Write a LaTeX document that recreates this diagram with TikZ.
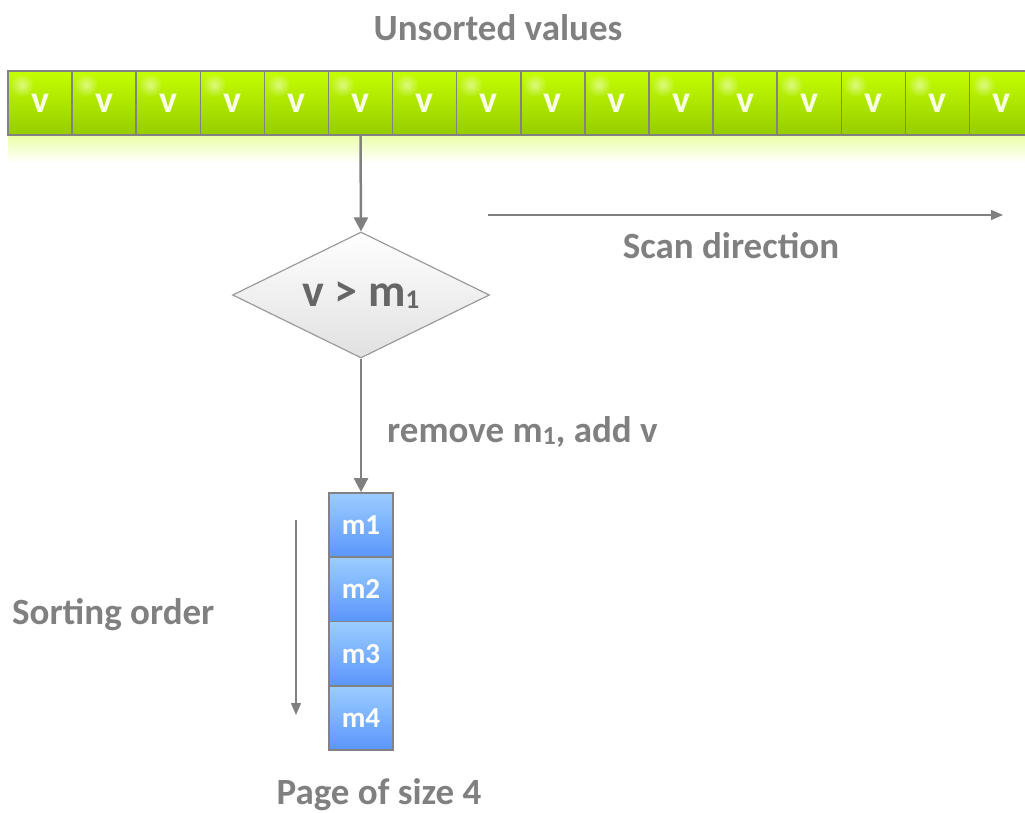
\documentclass[tikz,border=0pt]{standalone}
\usepackage{fontspec}
\setmainfont{Carlito}
\usetikzlibrary{shapes.geometric,arrows.meta,fadings}
\definecolor{txtgray}{RGB}{128,128,128}
\definecolor{linegray}{RGB}{128,128,128}
\definecolor{gtop}{RGB}{196,255,0}
\definecolor{gbot}{RGB}{150,204,0}
\definecolor{btop}{RGB}{155,205,255}
\definecolor{bbot}{RGB}{90,150,250}
\definecolor{bordergray}{RGB}{130,130,130}
\tikzfading[name=spotfade, inner color=transparent!0, outer color=transparent!100]
\tikzset{
  gbox/.style={draw=bordergray, line width=1.5pt, top color=gtop, bottom color=gbot,
    minimum width=64.1pt, minimum height=64pt, inner sep=0pt, text=white!90!gtop,
    font=\fontsize{38}{38}\selectfont\bfseries},
  bbox/.style={draw=bordergray, line width=1.5pt, top color=btop, bottom color=bbot,
    minimum width=64pt, minimum height=64.25pt, inner sep=0pt, text=white,
    font=\fontsize{29}{29}\selectfont\bfseries},
  decision/.style={diamond, draw=bordergray!80, line width=1.2pt, top color=white, bottom color=black!12,
    minimum width=257pt, minimum height=126pt, inner sep=0pt, aspect=2, text=black!60,
    font=\fontsize{46}{46}\selectfont\bfseries},
  lbl/.style={text=txtgray, inner sep=0pt, font=\fontsize{37}{37}\selectfont\bfseries},
  flow/.style={draw=linegray, line width=2.5pt, -{Triangle[length=14pt,width=14pt]}},
  thinarrow/.style={draw=linegray, line width=1.3pt, -{Triangle[length=12pt,width=10pt]}},
}
\begin{document}
\begin{tikzpicture}[x=1pt,y=-1pt]
\useasboundingbox (0,0) rectangle (1025,813);
\clip (0,0) rectangle (1025,813);
% reflection
\shade[top color=gtop!35, bottom color=white] (8,135) rectangle (1040,163);
% green cells
\foreach \i in {1,...,16}{
  \node[gbox] (g\i) at ({40+64.1*(\i-1)},103) {v};
  \fill[white, opacity=0.5, path fading=spotfade] ({22+64.1*(\i-1)},85) circle (12pt);
}
\node[lbl] (title) at (498,28) {Unsorted values};
% decision
\node[decision] (dec) at (361,295) {v > m\raisebox{-0.1ex}{\fontsize{27}{27}\selectfont 1}};
\draw[flow] (g6.south) -- (dec.north);
% blue page
\node[bbox] (b1) at (361,525) {m1};
\node[bbox] (b2) at (361,589.3) {m2};
\node[bbox] (b3) at (361,653.6) {m3};
\node[bbox] (b4) at (361,717.9) {m4};
\draw[flow] (dec.south) -- (b1.north);
\node[lbl, anchor=west] (rem) at (387,432) {remove m\raisebox{-0.1ex}{\fontsize{26}{26}\selectfont 1}, add v};
% scan direction
\coordinate (sc1) at (488,215);
\coordinate (sc2) at (1003,215);
\draw[thinarrow] (sc1) -- (sc2);
\node[lbl] (scan) at (731,246) {Scan direction};
% sorting order
\coordinate (so1) at (296,520);
\coordinate (so2) at (296,715);
\draw[thinarrow] (so1) -- (so2);
\node[lbl, anchor=west] (sort) at (12,615) {Sorting order};
\node[lbl] (page) at (379,795) {Page of size 4};
\end{tikzpicture}
\end{document}
